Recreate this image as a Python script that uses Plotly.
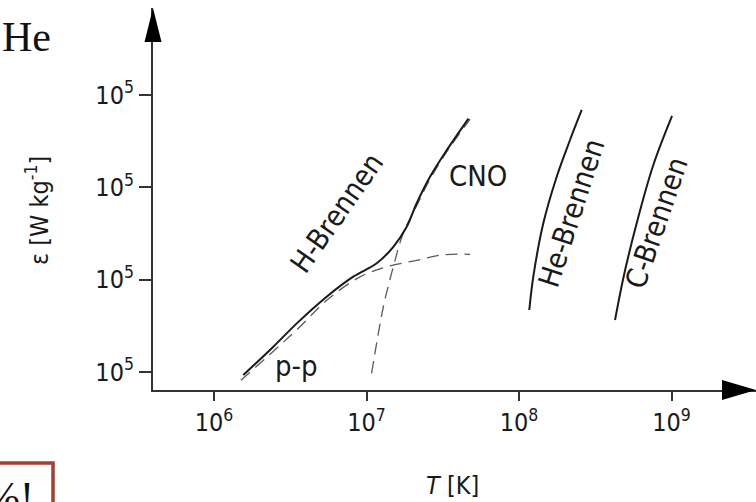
import plotly.graph_objects as go

# ---------------- data ----------------
# x values: temperature T in K ; y values: position on the (arbitrary) energy axis
h_T = [1.556e6, 2.45e6, 3.49e6, 5.48e6, 8.19e6, 1.167e7, 1.50e7, 1.835e7, 2.13e7, 2.61e7, 3.36e7, 4.66e7]
h_eps = [-0.033, 0.274, 0.527, 0.816, 1.033, 1.178, 1.356, 1.573, 1.826, 2.115, 2.404, 2.746]

pp_T = [1.50e6, 2.51e6, 3.66e6, 5.51e6, 9.06e6, 1.355e7, 2.13e7, 3.19e7, 4.78e7]
pp_eps = [-0.09, 0.24, 0.49, 0.78, 1.03, 1.14, 1.21, 1.27, 1.275]

cno_T = [1.08e7, 1.29e7, 1.50e7, 1.74e7, 2.13e7, 2.61e7, 3.37e7, 4.78e7]
cno_eps = [-0.014, 0.707, 1.141, 1.503, 1.80, 2.09, 2.39, 2.74]

he_T = [1.168e8, 1.241e8, 1.443e8, 1.767e8, 2.160e8, 2.577e8]
he_eps = [0.672, 1.033, 1.611, 2.116, 2.514, 2.839]

c_T = [4.262e8, 4.881e8, 5.94e8, 7.56e8, 1.008e9]
c_eps = [0.563, 1.051, 1.625, 2.232, 2.774]

x_tickvals = [1e6, 1e7, 1e8, 1e9]
x_ticktext = ["10<sup>6</sup>", "10<sup>7</sup>", "10<sup>8</sup>", "10<sup>9</sup>"]
y_tickvals = [0, 1, 2, 3]
y_ticktext = ["10<sup>5</sup>", "10<sup>5</sup>", "10<sup>5</sup>", "10<sup>5</sup>"]

# curve labels: (text, log10 T, eps, angle)
curve_labels = [
    ("H-Brennen", 6.805, 1.723, -55),
    ("CNO", 7.728, 2.124, 0),
    ("p-p", 6.538, 0.07, 0),
    ("He-Brennen", 8.346, 1.719, -72),
    ("C-Brennen", 8.903, 1.611, -71),
]

FONT = "DejaVu Sans Condensed, Liberation Sans Narrow, Arial Narrow, sans-serif"
INK = "#1a1a1a"
AX = "#333333"

fig = go.Figure()

dash_style = dict(color="#5a5a5a", width=1.3, dash="12px,7px")
fig.add_trace(go.Scatter(x=pp_T, y=pp_eps, mode="lines", line=dict(shape="spline", **dash_style), hoverinfo="skip"))
fig.add_trace(go.Scatter(x=cno_T, y=cno_eps, mode="lines", line=dict(shape="spline", **dash_style), hoverinfo="skip"))
solid = dict(color=INK, width=2)
fig.add_trace(go.Scatter(x=h_T, y=h_eps, mode="lines", line=dict(shape="spline", **solid), hoverinfo="skip"))
fig.add_trace(go.Scatter(x=he_T, y=he_eps, mode="lines", line=dict(shape="spline", **solid), hoverinfo="skip"))
fig.add_trace(go.Scatter(x=c_T, y=c_eps, mode="lines", line=dict(shape="spline", **solid), hoverinfo="skip"))

annotations = []
for txt, lx, ly, ang in curve_labels:
    annotations.append(dict(x=lx, y=ly, xref="x", yref="y", text=txt, showarrow=False,
                            textangle=ang, font=dict(family=FONT, size=29, color=INK),
                            xanchor="center", yanchor="middle"))

# axis titles
annotations.append(dict(x=-0.1907, y=0.4686, xref="paper", yref="paper",
                        text="ε [W kg<sup>-1</sup>]", textangle=-90, showarrow=False,
                        font=dict(family=FONT, size=25, color=INK), xanchor="center", yanchor="middle"))
annotations.append(dict(x=0.4975, y=-0.2513, xref="paper", yref="paper",
                        text="<i>T</i> [K]", showarrow=False,
                        font=dict(family=FONT, size=25, color=INK), xanchor="center", yanchor="middle"))
# surrounding page fragments
annotations.append(dict(x=-0.2537, y=0.924, xref="paper", yref="paper", text="He", showarrow=False,
                        font=dict(family="Liberation Serif, DejaVu Serif, serif", size=42, color="#111111"),
                        xanchor="left", yanchor="middle"))
annotations.append(dict(x=-0.1940, y=-0.280, xref="paper", yref="paper", text="%!", showarrow=False,
                        font=dict(family="Liberation Serif, DejaVu Serif, serif", size=42, color="#111111"),
                        xanchor="right", yanchor="middle"))

shapes = [
    # y-axis arrowhead
    dict(type="path", xref="paper", yref="paper",
         path="M 0 1.0 L -0.0141 0.911 L 0.0141 0.911 Z", fillcolor="#000000", line=dict(width=0)),
    # x-axis arrowhead
    dict(type="path", xref="paper", yref="paper",
         path="M 1.0 0 L 0.9436 0.0262 L 0.9436 -0.0262 Z", fillcolor="#000000", line=dict(width=0)),
    # red box fragment
    dict(type="rect", xref="paper", yref="paper", x0=-0.2703, x1=-0.1658, y0=-0.1911, y1=-0.345,
         line=dict(color="#a5402f", width=3.5), fillcolor="rgba(0,0,0,0)"),
]

fig.update_layout(
    width=756, height=502,
    margin=dict(l=153, r=0, t=8, b=112),
    paper_bgcolor="white", plot_bgcolor="white",
    showlegend=False,
    font=dict(family=FONT, size=25, color=INK),
    annotations=annotations,
    shapes=shapes,
)
fig.update_xaxes(type="log", range=[5.6, 9.554], tickvals=x_tickvals, ticktext=x_ticktext,
                 showgrid=False, zeroline=False, showline=True, linecolor=AX, linewidth=2,
                 ticks="outside", ticklen=9, tickwidth=2, tickcolor=AX,
                 tickfont=dict(family=FONT, size=25, color=INK))
fig.update_yaxes(range=[-0.195, 3.944], tickvals=y_tickvals, ticktext=y_ticktext,
                 showgrid=False, zeroline=False, showline=True, linecolor=AX, linewidth=2,
                 ticks="outside", ticklen=12, tickwidth=2, tickcolor=AX,
                 tickfont=dict(family=FONT, size=25, color=INK))

fig.write_html("out.html")
